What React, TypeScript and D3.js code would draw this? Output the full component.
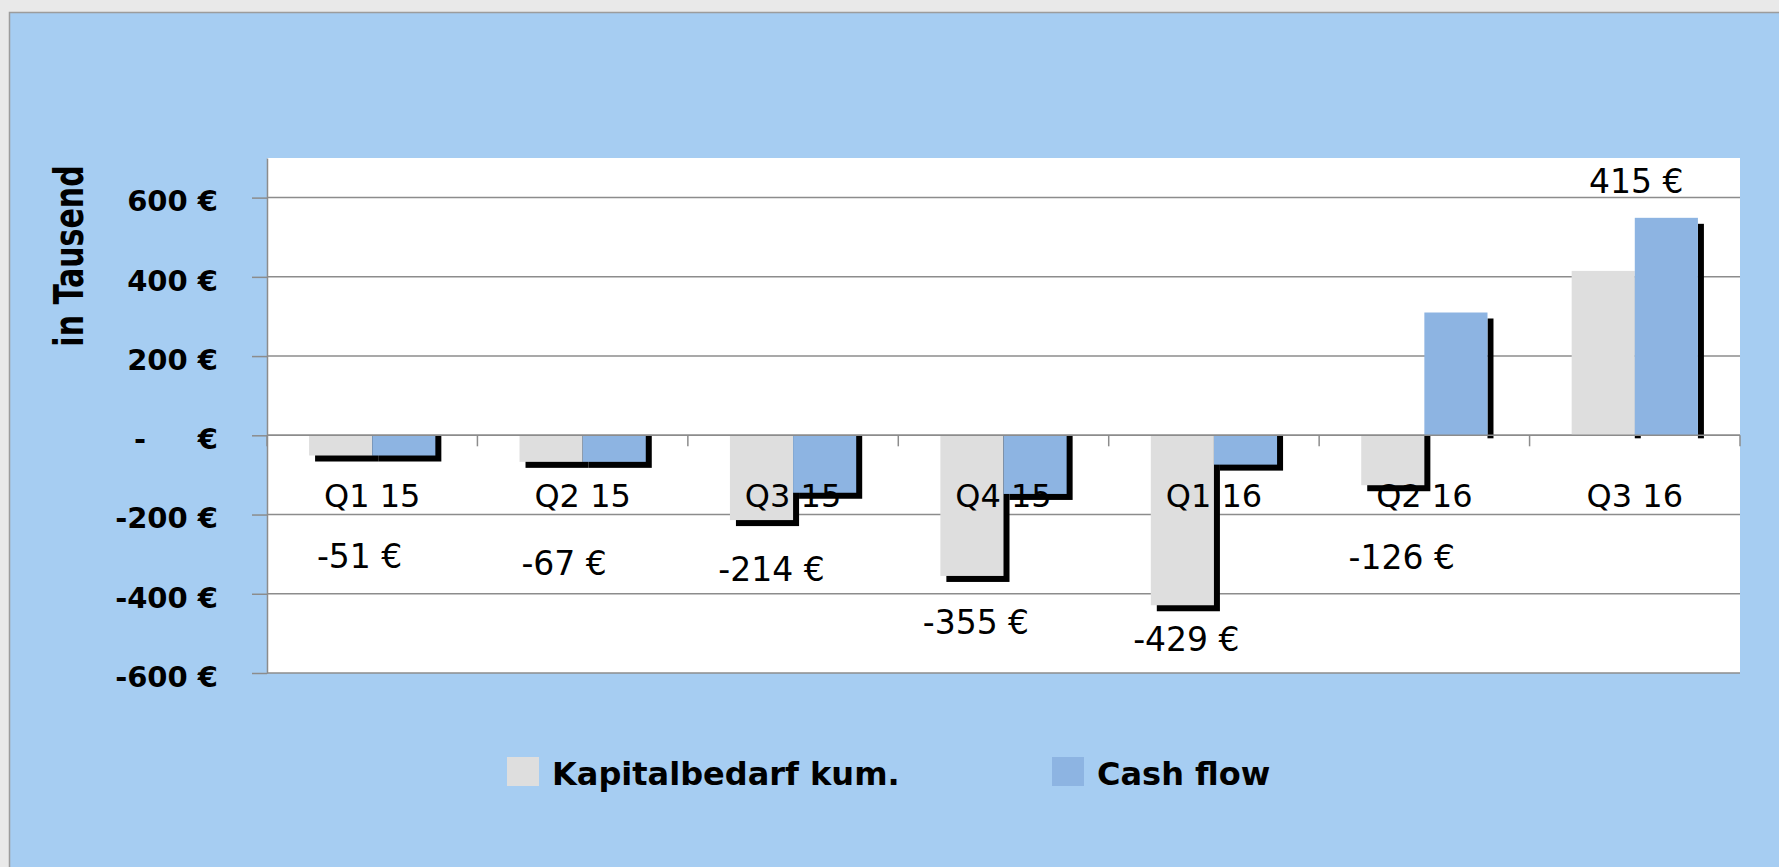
import React, { useEffect, useRef } from 'react'
import * as d3 from 'd3'

// values in thousand euro
const quarters = ['Q1 15', 'Q2 15', 'Q3 15', 'Q4 15', 'Q1 16', 'Q2 16', 'Q3 16']
const kapitalbedarf = [-51, -67, -214, -355, -429, -126, 415]
const cashFlow = [-51, -67, -145, -148, -74, 310, 549]
const yTicks = [-600, -400, -200, 0, 200, 400, 600]
const seriesNames = ['Kapitalbedarf kum.', 'Cash flow']
const seriesColors = ['#dedede', '#8db4e2']

// manual nudges of the data labels (px), relative to the end of the grey bar
const labelNudge = [[19, 112], [13, 113], [10, 61], [4, 58], [4, 46], [9, 84], [33, -78]]

const W = 1779
const H = 867
const FONT = '"DejaVu Sans", sans-serif'

export default function App() {
    const ref = useRef<SVGSVGElement>(null)

    useEffect(() => {
        const svg = d3.select(ref.current)
        svg.selectAll('*').remove()

        const left = 267, right = 1740, top = 158, bottom = 673

        const x = d3.scaleBand().domain(quarters).range([left, right]).padding(0)
        const bw = x.bandwidth()
        const x1 = d3.scaleBand().domain(seriesNames).range([bw * 0.2, bw * 0.8]).padding(0)
        const y = d3.scaleLinear().domain([-600, 700]).range([bottom, top])
        const y0 = y(0)

        // frame + blue panel
        svg.append('rect').attr('width', W).attr('height', H).attr('fill', '#e9e9e9')
        svg.append('rect')
            .attr('x', 9.5).attr('y', 12.5)
            .attr('width', W).attr('height', H)
            .attr('fill', '#a6cdf2')
            .attr('stroke', '#9c9c9c').attr('stroke-width', 1.5)

        // plot area
        svg.append('rect')
            .attr('x', left).attr('y', top)
            .attr('width', right - left).attr('height', bottom - top)
            .attr('fill', '#fff')

        // gridlines
        svg.append('g').selectAll('line').data(yTicks).enter().append('line')
            .attr('x1', left).attr('x2', right)
            .attr('y1', d => y(d)).attr('y2', d => y(d))
            .attr('stroke', '#8c8c8c').attr('stroke-width', 1.5)

        // y axis
        const yAxis = d3.axisLeft(y)
            .tickValues(yTicks)
            .tickSize(15)
            .tickSizeOuter(0)
            .tickPadding(34)
            .tickFormat(d => (d === 0 ? '€' : `${d} €`))
        const gy = svg.append('g').attr('transform', `translate(${left},0)`).call(yAxis)
        gy.select('.domain').attr('stroke', '#8c8c8c').attr('stroke-width', 1.5)
        gy.selectAll('.tick line').attr('stroke', '#8c8c8c').attr('stroke-width', 1.5)
        gy.selectAll('.tick text')
            .attr('dy', '0.46em')
            .style('font-family', FONT).style('font-size', '29px').style('font-weight', 'bold')
            .attr('fill', '#000')
        // accounting style zero: "-   €"
        svg.append('text')
            .attr('x', 140).attr('y', y0).attr('dy', '0.46em')
            .attr('text-anchor', 'middle')
            .style('font-family', FONT).style('font-size', '29px').style('font-weight', 'bold')
            .text('-')

        const rows = quarters.map((q, i) => ({ q, i, vals: [kapitalbedarf[i], cashFlow[i]] }))
        const off = 6

        // shadows
        const sh = svg.append('g').attr('fill', '#000')
        rows.forEach(r => {
            r.vals.forEach((v, k) => {
                const bx = (x(r.q) as number) + (x1(seriesNames[k]) as number)
                const w = x1.bandwidth()
                if (v < 0) {
                    sh.append('rect')
                        .attr('x', bx + off).attr('y', y0)
                        .attr('width', w).attr('height', y(v) - y0 + off)
                } else {
                    sh.append('rect')
                        .attr('x', bx + w).attr('y', y(v) + off)
                        .attr('width', off).attr('height', y0 - y(v) - off + 3)
                }
            })
        })

        // bars
        const groups = svg.append('g').selectAll('g').data(rows).enter().append('g')
            .attr('transform', d => `translate(${x(d.q)},0)`)
        groups.selectAll('rect')
            .data(d => d.vals.map((v, k) => ({ v, k })))
            .enter().append('rect')
            .attr('x', d => x1(seriesNames[d.k]) as number)
            .attr('width', x1.bandwidth())
            .attr('y', d => Math.min(y(d.v), y0))
            .attr('height', d => Math.abs(y(d.v) - y0))
            .attr('fill', d => seriesColors[d.k])

        // category axis at zero
        svg.append('line')
            .attr('x1', left).attr('x2', right)
            .attr('y1', y0).attr('y2', y0)
            .attr('stroke', '#8c8c8c').attr('stroke-width', 1.5)
        svg.append('g').selectAll('line').data(d3.range(quarters.length + 1)).enter().append('line')
            .attr('x1', i => left + i * x.step()).attr('x2', i => left + i * x.step())
            .attr('y1', y0).attr('y2', y0 + 11)
            .attr('stroke', '#8c8c8c').attr('stroke-width', 1.5)

        const gx = svg.append('g').attr('transform', `translate(0,${y0})`)
            .call(d3.axisBottom(x).tickSize(0).tickPadding(49))
        gx.select('.domain').remove()
        gx.selectAll('.tick text')
            .style('font-family', FONT).style('font-size', '32px')
            .attr('fill', '#000')

        // data labels of the cumulative series
        svg.append('g').selectAll('text').data(rows).enter().append('text')
            .attr('x', d => (x(d.q) as number) + (x1(seriesNames[0]) as number) + x1.bandwidth() / 2 + labelNudge[d.i][0])
            .attr('y', d => y(kapitalbedarf[d.i]) + labelNudge[d.i][1])
            .attr('text-anchor', 'middle')
            .style('font-family', FONT).style('font-size', '33px')
            .attr('fill', '#000')
            .text(d => `${kapitalbedarf[d.i]} €`)

        // y title
        svg.append('text')
            .attr('transform', 'translate(83,256) scale(1.38,1) rotate(-90)')
            .attr('text-anchor', 'middle')
            .style('font-family', FONT).style('font-size', '30px').style('font-weight', 'bold')
            .text('in Tausend')

        // legend
        const legendX = [507, 1052]
        const lg = svg.append('g').selectAll('g').data(seriesNames).enter().append('g')
            .attr('transform', (d, i) => `translate(${legendX[i]},757)`)
        lg.append('rect').attr('width', 32).attr('height', 29)
            .attr('fill', (d, i) => seriesColors[i])
        lg.append('text')
            .attr('x', 45).attr('y', 28)
            .style('font-family', FONT).style('font-size', '32px').style('font-weight', 'bold')
            .text(d => d)
    }, [])

    return (
        <div style={{ position: 'absolute', left: 0, top: 0 }}>
            <svg ref={ref} width={W} height={H} style={{ display: 'block' }} />
        </div>
    )
}
